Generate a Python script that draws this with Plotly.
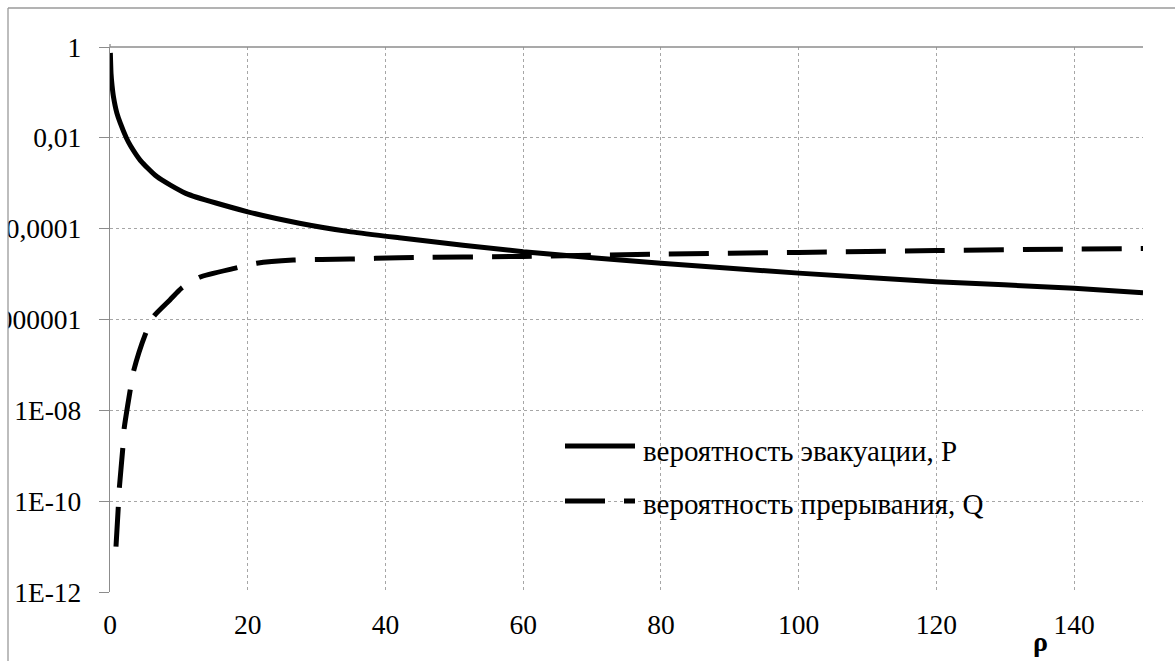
import plotly.graph_objects as go

# Evacuation probability P versus rho
rho_p = [0.05, 0.15, 0.3, 0.5, 1.0, 1.5, 2.4, 3.0, 4.4, 6.8, 11, 20, 27.5, 35, 42,
         60, 80, 100, 120, 140, 150]
p_vals = [0.74, 0.26, 0.14, 8.1e-2, 3.5e-2, 2.1e-2, 9.8e-3, 6.6e-3, 3.2e-3, 1.4e-3,
          6.0e-4, 2.35e-4, 1.32e-4, 8.5e-5, 6.3e-5, 3.1e-5, 1.74e-5, 1.05e-5,
          6.8e-6, 4.9e-6, 3.9e-6]

# Interruption probability Q versus rho
rho_q = [0.87, 1.2, 1.35, 1.84, 2.03, 2.9, 3.4, 5.1, 6.3, 8.7, 10.4, 13, 18.2, 21.3,
         26.6, 34.8, 42, 60, 80, 100, 120, 140, 150]
q_vals = [1e-11, 7.2e-11, 1.9e-10, 1.35e-9, 3.7e-9, 2.6e-8, 7.1e-8, 4.6e-7, 1.15e-6,
          2.7e-6, 4.9e-6, 8.5e-6, 1.35e-5, 1.74e-5, 2.04e-5, 2.14e-5, 2.29e-5,
          2.45e-5, 2.75e-5, 3.0e-5, 3.3e-5, 3.55e-5, 3.65e-5]

y_tickvals = [1, 1e-2, 1e-4, 1e-6, 1e-8, 1e-10, 1e-12]
y_ticktext = ["1", "0,01", "0,0001", "0,000001", "1E-08", "1E-10", "1E-12"]
x_tickvals = [0, 20, 40, 60, 80, 100, 120, 140]

name_p = "вероятность эвакуации, P"
name_q = "вероятность прерывания, Q"

FONT = "Liberation Serif"
GRID = "#a6a6a6"
AXIS = "#8c8c8c"
LW = 5

W, H = 1175, 661
ML, MR, MT, MB = 110, 32, 47, 69
PW, PH = W - ML - MR, H - MT - MB


def px(xp):
    return (xp - ML) / PW


def py(yp):
    return (H - MB - yp) / PH


fig = go.Figure()
fig.add_trace(go.Scatter(x=rho_p, y=p_vals, mode="lines", name=name_p,
                         line=dict(color="black", width=LW, shape="spline", smoothing=0.6),
                         showlegend=False))
fig.add_trace(go.Scatter(x=rho_q, y=q_vals, mode="lines", name=name_q,
                         line=dict(color="black", width=LW, dash="40px,19px",
                                   shape="spline", smoothing=0.6),
                         showlegend=False))

shapes = []
# legend background box
shapes.append(dict(type="rect", xref="paper", yref="paper", layer="between",
                   x0=px(447), x1=px(938), y0=py(537), y1=py(418),
                   fillcolor="white", line=dict(width=0)))
# top axis line and its tick marks
shapes.append(dict(type="line", xref="paper", yref="paper", layer="above",
                   x0=0, x1=1, y0=1, y1=1, line=dict(color=AXIS, width=1.3)))
shapes.append(dict(type="line", xref="paper", yref="paper", layer="above",
                   x0=0, x1=0, y0=1, y1=py(44), line=dict(color=AXIS, width=1.3)))
# legend samples
shapes.append(dict(type="line", xref="paper", yref="paper", layer="above",
                   x0=px(565), x1=px(635), y0=py(446), y1=py(446),
                   line=dict(color="black", width=LW)))
shapes.append(dict(type="line", xref="paper", yref="paper", layer="above",
                   x0=px(565), x1=px(635), y0=py(501), y1=py(501),
                   line=dict(color="black", width=LW, dash="40px,19px")))
# chart area frame, clipping the left margin
shapes.append(dict(type="rect", xref="paper", yref="paper", layer="above",
                   x0=px(-20), x1=px(8), y0=py(H + 20), y1=py(-20),
                   fillcolor="white", line=dict(width=0)))
shapes.append(dict(type="rect", xref="paper", yref="paper", layer="above",
                   x0=px(-20), x1=px(W + 20), y0=py(8), y1=py(-20),
                   fillcolor="white", line=dict(width=0)))
shapes.append(dict(type="line", xref="paper", yref="paper", layer="above",
                   x0=px(8), x1=px(8), y0=py(8), y1=py(H + 20),
                   line=dict(color="#9a9a9a", width=1.3)))
shapes.append(dict(type="line", xref="paper", yref="paper", layer="above",
                   x0=px(8), x1=px(W + 20), y0=py(8), y1=py(8),
                   line=dict(color="#9a9a9a", width=1.3)))

annotations = [
    dict(text=name_p, xref="paper", yref="paper", x=px(641), y=py(451),
         xanchor="left", yanchor="middle", showarrow=False,
         font=dict(family=FONT, size=29, color="black")),
    dict(text=name_q, xref="paper", yref="paper", x=px(641), y=py(504),
         xanchor="left", yanchor="middle", showarrow=False,
         font=dict(family=FONT, size=29, color="black")),
    dict(text="<b>ρ</b>", xref="paper", yref="paper", x=px(1040), y=py(642),
         xanchor="center", yanchor="middle", showarrow=False,
         font=dict(family=FONT, size=28, color="black")),
]

fig.update_layout(
    width=W, height=H,
    margin=dict(l=ML, r=MR, t=MT, b=MB, autoexpand=False),
    paper_bgcolor="white", plot_bgcolor="white",
    font=dict(family=FONT, size=28, color="black"),
    shapes=shapes, annotations=annotations,
    showlegend=False,
)
fig.update_xaxes(range=[0, 150], tickvals=x_tickvals, showgrid=True, automargin=False,
                 gridcolor=GRID, griddash="dot", gridwidth=1,
                 showline=False, zeroline=False, ticks="",
                 ticklabelstandoff=13,
                 tickfont=dict(family=FONT, size=27.5, color="black"))
fig.update_yaxes(type="log", range=[-12, 0], tickvals=y_tickvals, ticktext=y_ticktext,
                 showgrid=True, gridcolor=GRID, griddash="dot", gridwidth=1,
                 automargin=False,
                 showline=True, linecolor=AXIS, linewidth=1.3,
                 ticks="outside", ticklen=10, tickcolor=AXIS, tickwidth=1.3,
                 ticklabelstandoff=12, zeroline=False,
                 tickfont=dict(family=FONT, size=27.5, color="black"))

fig.write_html("out.html")
